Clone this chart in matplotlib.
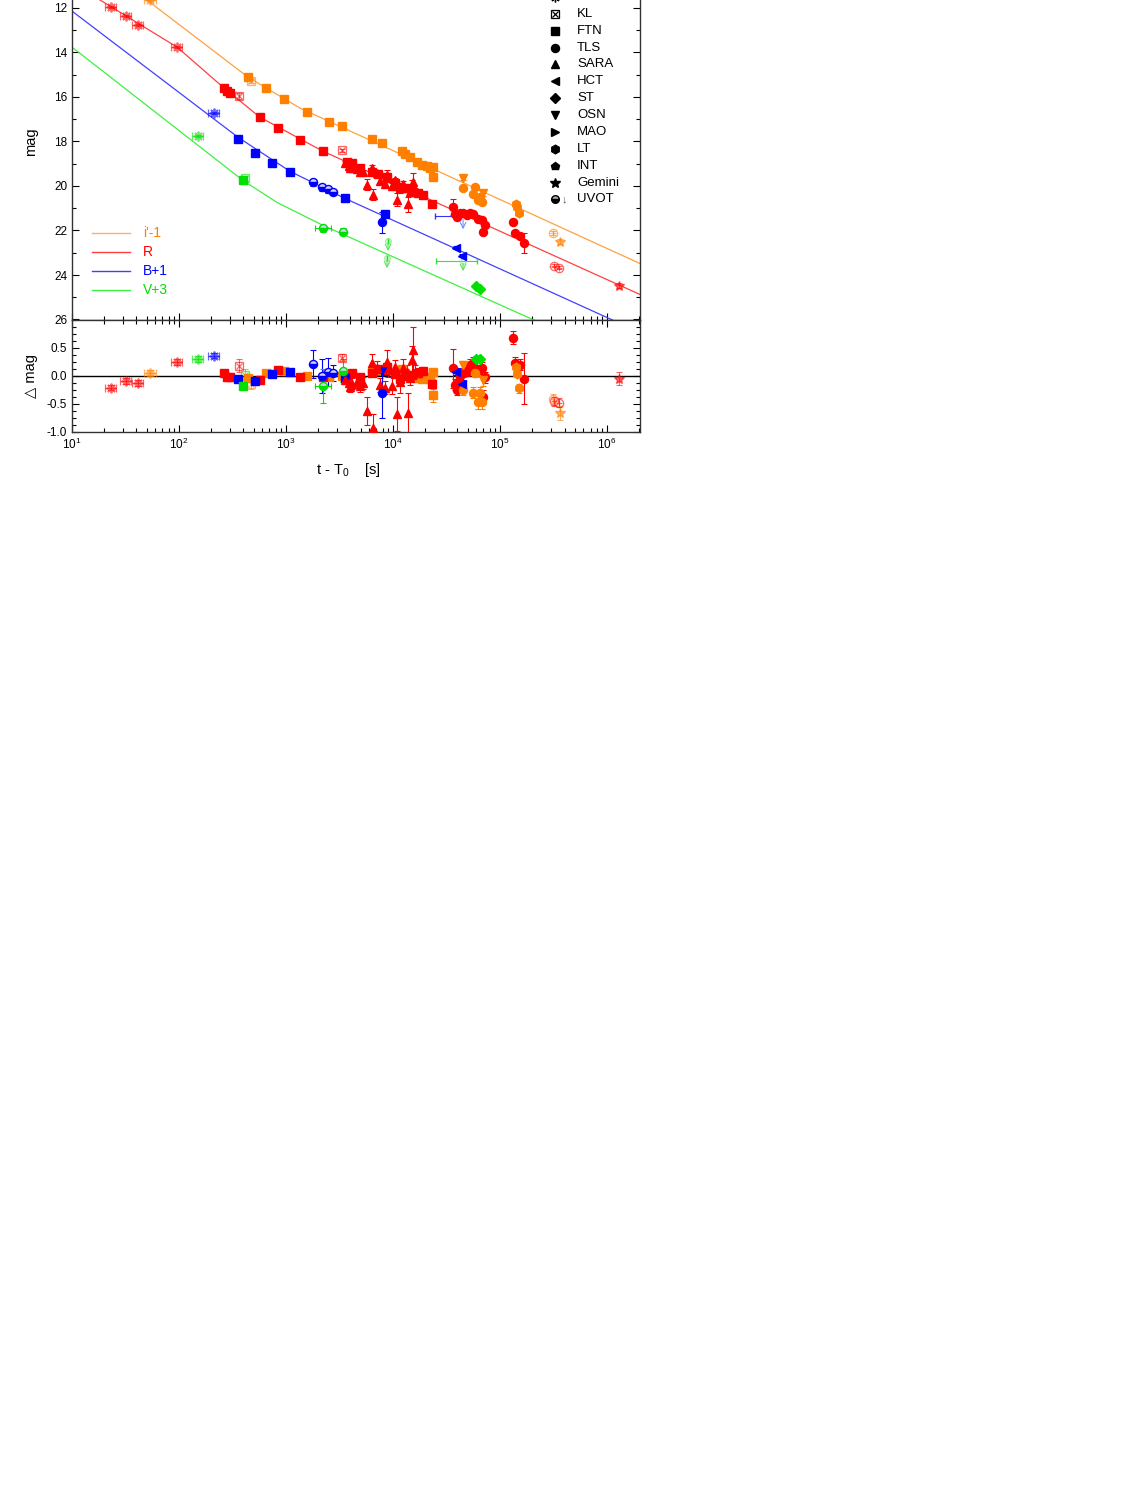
import numpy as np
import matplotlib.pyplot as plt
from matplotlib.ticker import MultipleLocator, LogLocator, NullFormatter, FormatStrFormatter

plt.rcParams['font.family'] = ['Liberation Sans', 'DejaVu Sans']
plt.rcParams['mathtext.fontset'] = 'custom'
plt.rcParams['mathtext.rm'] = 'Liberation Sans'
plt.rcParams['mathtext.default'] = 'regular'

ORG = '#FF8000'
RED = '#FF0000'
BLU = '#0000FF'
GRN = '#00E000'

# ---- model light curves (knots, t in s, mag)
org_line_t = [10, 442, 1352, 2.04e6]
org_line_mag = [9.07, 15.11, 16.50, 23.49]
red_line_t = [10, 96, 264, 571, 2218, 2.04e6]
red_line_mag = [10.87, 13.76, 15.60, 16.91, 18.44, 24.88]
blu_line_t = [10, 356, 1089, 3559, 2.04e6]
blu_line_mag = [12.14, 17.81, 19.34, 20.56, 26.59]
grn_line_t = [10, 396, 824, 2218, 2.04e6]
grn_line_mag = [13.76, 19.75, 20.74, 21.77, 28.17]

# ---- NMSU
red_nmsu_t = [23, 32, 41, 96]
red_nmsu_mag = [11.95, 12.36, 12.77, 13.76]
red_nmsu_err = [0.05, 0.05, 0.05, 0.05]
red_nmsu_dmag = [-0.21, -0.09, -0.13, 0.25]
org_nmsu_t = [54]
org_nmsu_mag = [11.64]
org_nmsu_err = [0.05]
org_nmsu_dmag = [0.05]
blu_nmsu_t = [212]
blu_nmsu_mag = [16.73]
blu_nmsu_err = [0.05]
blu_nmsu_dmag = [0.36]
grn_nmsu_t = [151]
grn_nmsu_mag = [17.77]
grn_nmsu_err = [0.05]
grn_nmsu_dmag = [0.30]

# ---- KL
red_kl_t = [364, 3337]
red_kl_mag = [15.96, 18.40]
red_kl_err = [0.12, 0.06]
red_kl_dmag = [0.18, 0.32]
org_kl_t = [471]
org_kl_mag = [15.29]
org_kl_err = [0.10]
org_kl_dmag = [-0.14]
grn_kl_t = [414]
grn_kl_mag = [19.66]
grn_kl_err = [0.10]
grn_kl_dmag = [0.02]

# ---- FTN
red_ftn_t = [264, 281, 300, 571, 841, 1352, 2218, 3715, 4140, 4918, 6365, 7240,
             8790, 10440, 11620, 12950, 15060, 17130, 19070, 23150]
red_ftn_mag = [15.60, 15.74, 15.83, 16.91, 17.41, 17.95, 18.44, 18.93, 18.98, 19.21, 19.39, 19.44,
               19.59, 19.87, 20.05, 20.11, 20.23, 20.32, 20.39, 20.79]
red_ftn_err = [0.03, 0.03, 0.03, 0.03, 0.03, 0.03, 0.04, 0.05, 0.05, 0.05, 0.05, 0.06,
               0.06, 0.06, 0.07, 0.07, 0.07, 0.08, 0.08, 0.08]
red_ftn_dmag = [0.05, -0.02, -0.02, -0.07, 0.10, -0.02, -0.02, 0.0, 0.05, -0.02, 0.05, 0.12,
                0.15, 0.03, -0.05, 0.0, 0.02, 0.05, 0.08, -0.14]
org_ftn_t = [442, 650, 957, 1571, 2523, 3337, 6365, 7890, 12140, 12950, 14420, 16770,
             18670, 20790, 22170, 23640, 23640]
org_ftn_mag = [15.11, 15.60, 16.10, 16.68, 17.14, 17.32, 17.90, 18.08, 18.44, 18.58, 18.71, 18.94,
               19.07, 19.12, 19.21, 19.16, 19.61]
org_ftn_err = [0.03, 0.03, 0.03, 0.03, 0.03, 0.03, 0.04, 0.04, 0.05, 0.05, 0.05, 0.05,
               0.06, 0.06, 0.06, 0.06, 0.12]
org_ftn_dmag = [-0.04, 0.05, 0.08, 0.0, -0.03, 0.0, 0.08, 0.10, 0.12, 0.05, 0.0, -0.04,
                -0.05, -0.02, -0.06, 0.07, -0.35]
blu_ftn_t = [356, 513, 740, 1089, 3559, 8420]
blu_ftn_mag = [17.90, 18.53, 18.98, 19.39, 20.56, 21.28]
blu_ftn_err = [0.04, 0.04, 0.04, 0.04, 0.04, 0.05]
blu_ftn_dmag = [-0.05, -0.10, 0.03, 0.07, -0.04, 0.08]
grn_ftn_t = [396]
grn_ftn_mag = [19.75]
grn_ftn_err = [0.04]
grn_ftn_dmag = [-0.18]

# ---- SARA
red_sara_t = [3559, 3840, 3965, 4140, 4610, 4918, 5250, 5720, 6365, 6500, 7085, 7560, 8420,
              8790, 8980, 9790, 10440, 10900, 11620, 12400, 13520, 13810, 14420, 15060, 15390, 16070]
red_sara_mag = [18.96, 19.08, 19.19, 19.17, 19.24, 19.37, 19.38, 19.95, 19.21, 20.39, 19.40, 19.76, 19.91,
                19.49, 19.66, 20.02, 19.74, 20.62, 20.11, 19.92, 20.08, 20.83, 20.25, 19.97, 19.81, 20.26]
red_sara_err = [0.08, 0.08, 0.08, 0.10, 0.10, 0.10, 0.10, 0.25, 0.15, 0.25, 0.12, 0.12, 0.12,
                0.20, 0.12, 0.15, 0.12, 0.30, 0.20, 0.15, 0.12, 0.35, 0.12, 0.25, 0.40, 0.15]
red_sara_dmag = [-0.07, -0.12, -0.20, -0.14, -0.11, -0.18, -0.13, -0.62, 0.23, -0.93, 0.14, -0.16, -0.21,
                 0.25, 0.10, -0.18, 0.16, -0.68, -0.11, 0.14, 0.07, -0.66, -0.04, 0.28, 0.46, 0.05]

# ---- TLS
red_tls_t = [36380, 37970, 39650, 40490, 42270, 45100, 49170, 52450, 55980, 62250, 67850, 69300,
             72400, 132100, 138000, 153800, 167600]
red_tls_mag = [20.95, 21.28, 21.41, 21.29, 21.22, 21.23, 21.30, 21.23, 21.27, 21.49, 21.53, 22.07,
               21.76, 21.62, 22.11, 22.24, 22.57]
red_tls_err = [0.35, 0.10, 0.10, 0.10, 0.08, 0.08, 0.08, 0.10, 0.12, 0.10, 0.10, 0.12,
               0.10, 0.12, 0.10, 0.10, 0.45]
red_tls_dmag = [0.13, -0.16, -0.25, -0.11, 0.0, 0.05, 0.07, 0.20, 0.22, 0.10, 0.14, -0.38,
                -0.03, 0.68, 0.23, 0.20, -0.05]
org_tls_t = [45100, 55980, 58400, 62250, 65000, 67850]
org_tls_mag = [20.11, 20.35, 20.04, 20.62, 20.49, 20.70]
org_tls_err = [0.08, 0.10, 0.08, 0.12, 0.10, 0.12]
org_tls_dmag = [-0.26, -0.30, 0.05, -0.47, -0.30, -0.47]
blu_tls_t = [7890]
blu_tls_mag = [21.64]
blu_tls_err = [0.45]
blu_tls_dmag = [-0.30]

# ---- HCT, ST, OSN, LT
blu_hct_t = [38800, 44150]
blu_hct_mag = [22.77, 23.13]
blu_hct_err = [0.06, 0.06]
blu_hct_dmag = [0.07, -0.14]
grn_st_t = [59700, 65000]
grn_st_mag = [24.48, 24.62]
grn_st_err = [0.05, 0.05]
grn_st_dmag = [0.30, 0.29]
org_osn_t = [45100, 69300]
org_osn_mag = [19.66, 20.33]
org_osn_err = [0.08, 0.10]
org_osn_dmag = [0.19, -0.08]
org_lt_t = [141200, 144200, 150600]
org_lt_mag = [20.79, 20.93, 21.22]
org_lt_err = [0.06, 0.06, 0.08]
org_lt_dmag = [0.15, 0.03, -0.22]

# ---- late faint points
red_late_t = [319600, 355900]
red_late_mag = [23.58, 23.67]
red_late_err = [0.08, 0.08]
red_late_dmag = [-0.45, -0.48]
org_late_t = [312500]
org_late_mag = [22.12]
org_late_err = [0.10]
org_late_dmag = [-0.42]
red_gem_t = [1294000]
red_gem_mag = [24.48]
red_gem_err = [0.12]
red_gem_dmag = [-0.05]
org_gem_t = [363800]
org_gem_mag = [22.50]
org_gem_err = [0.12]
org_gem_dmag = [-0.66]

# ---- UVOT
blu_uvot_t = [1786, 2168, 2472, 2750]
blu_uvot_mag = [19.84, 20.06, 20.15, 20.29]
blu_uvot_err = [0.15, 0.15, 0.15, 0.10]
blu_uvot_dmag = [0.21, 0.0, 0.07, 0.05]
blu_uvot_derr = [0.25, 0.30, 0.25, 0.15]
grn_uvot_t = [2218, 3412]
grn_uvot_mag = [21.91, 22.05]
grn_uvot_err = [0.15, 0.15]
grn_uvot_xlo = [352, 0]
grn_uvot_xhi = [402, 0]
grn_uvot_dmag = [-0.18, 0.09]
grn_uvot_derr = [0.30, 0.20]
# upper limits
blu_ul_t = [45100]
blu_ul_mag = [21.37]
blu_ul_xlo = [20400]
blu_ul_xhi = [15860]
grn_ul_t = [8980, 8790, 45100]
grn_ul_mag = [22.45, 23.22, 23.35]
grn_ul_xlo = [0, 0, 19870]
grn_ul_xhi = [0, 0, 15860]

MARK = {
    'NMSU': dict(marker=(8, 2, 0), ms=7),
    'KL': dict(marker='s', ms=6),
    'FTN': dict(marker='s', ms=5.8),
    'TLS': dict(marker='o', ms=5.8),
    'SARA': dict(marker='^', ms=6.2),
    'HCT': dict(marker='<', ms=6.2),
    'ST': dict(marker='D', ms=4.8),
    'OSN': dict(marker='v', ms=6.2),
    'MAO': dict(marker='>', ms=6.2),
    'LT': dict(marker='h', ms=6.2),
    'INT': dict(marker='p', ms=6.2),
    'Gemini': dict(marker='*', ms=7.5),
    'UVOT': dict(marker='o', ms=5.8),
    'OPLUS': dict(marker='o', ms=6),
}


def draw(ax, kind, color, t, y, yerr=None, xerr=None, alpha=1.0):
    st = MARK[kind]
    if yerr is not None or xerr is not None:
        ax.errorbar(t, y, yerr=yerr, xerr=xerr, fmt='none', ecolor=color, elinewidth=0.8,
                    capsize=2.5, capthick=0.8, alpha=alpha, zorder=3)
    if kind in ('KL', 'OPLUS'):
        ax.plot(t, y, ls='none', marker=st['marker'], ms=st['ms'], mfc='none', mec=color,
                mew=0.9, alpha=alpha, zorder=4)
        ax.plot(t, y, ls='none', marker='x' if kind == 'KL' else '+', ms=st['ms'] - 1,
                mec=color, mew=0.9, alpha=alpha, zorder=4)
    elif kind == 'UVOT':
        ax.plot(t, y, ls='none', marker='o', ms=st['ms'], color=color, mec=color,
                fillstyle='bottom', markerfacecoloralt='#D0D0FF', alpha=alpha, zorder=4)
    elif kind == 'NMSU':
        # asterisk drawn in a bracket of small error caps
        ax.errorbar(t, y, xerr=[[v * 0.12 for v in t], [v * 0.12 for v in t]], fmt='none',
                    ecolor=color, elinewidth=0.8, capsize=3, capthick=0.9, alpha=alpha, zorder=3)
        ax.plot(t, y, ls='none', marker=st['marker'], ms=st['ms'], color=color, mec=color,
                mew=1.3, alpha=alpha, zorder=4)
    else:
        ax.plot(t, y, ls='none', marker=st['marker'], ms=st['ms'], color=color, mec=color,
                mew=1, alpha=alpha, zorder=4)


groups = [
    ('NMSU', RED, red_nmsu_t, red_nmsu_mag, red_nmsu_err, red_nmsu_dmag, red_nmsu_err, 0.6),
    ('NMSU', ORG, org_nmsu_t, org_nmsu_mag, org_nmsu_err, org_nmsu_dmag, org_nmsu_err, 0.6),
    ('NMSU', BLU, blu_nmsu_t, blu_nmsu_mag, blu_nmsu_err, blu_nmsu_dmag, blu_nmsu_err, 0.6),
    ('NMSU', GRN, grn_nmsu_t, grn_nmsu_mag, grn_nmsu_err, grn_nmsu_dmag, grn_nmsu_err, 0.6),
    ('KL', RED, red_kl_t, red_kl_mag, red_kl_err, red_kl_dmag, red_kl_err, 0.6),
    ('KL', ORG, org_kl_t, org_kl_mag, org_kl_err, org_kl_dmag, org_kl_err, 0.6),
    ('KL', GRN, grn_kl_t, grn_kl_mag, grn_kl_err, grn_kl_dmag, grn_kl_err, 0.6),
    ('FTN', ORG, org_ftn_t, org_ftn_mag, org_ftn_err, org_ftn_dmag, org_ftn_err, 1.0),
    ('FTN', RED, red_ftn_t, red_ftn_mag, red_ftn_err, red_ftn_dmag, red_ftn_err, 1.0),
    ('FTN', BLU, blu_ftn_t, blu_ftn_mag, blu_ftn_err, blu_ftn_dmag, blu_ftn_err, 1.0),
    ('FTN', GRN, grn_ftn_t, grn_ftn_mag, grn_ftn_err, grn_ftn_dmag, grn_ftn_err, 1.0),
    ('SARA', RED, red_sara_t, red_sara_mag, red_sara_err, red_sara_dmag, red_sara_err, 1.0),
    ('TLS', RED, red_tls_t, red_tls_mag, red_tls_err, red_tls_dmag, red_tls_err, 1.0),
    ('TLS', ORG, org_tls_t, org_tls_mag, org_tls_err, org_tls_dmag, org_tls_err, 1.0),
    ('TLS', BLU, blu_tls_t, blu_tls_mag, blu_tls_err, blu_tls_dmag, blu_tls_err, 1.0),
    ('HCT', BLU, blu_hct_t, blu_hct_mag, blu_hct_err, blu_hct_dmag, blu_hct_err, 1.0),
    ('ST', GRN, grn_st_t, grn_st_mag, grn_st_err, grn_st_dmag, grn_st_err, 1.0),
    ('OSN', ORG, org_osn_t, org_osn_mag, org_osn_err, org_osn_dmag, org_osn_err, 1.0),
    ('LT', ORG, org_lt_t, org_lt_mag, org_lt_err, org_lt_dmag, org_lt_err, 1.0),
    ('OPLUS', RED, red_late_t, red_late_mag, red_late_err, red_late_dmag, red_late_err, 0.6),
    ('OPLUS', ORG, org_late_t, org_late_mag, org_late_err, org_late_dmag, org_late_err, 0.6),
    ('Gemini', RED, red_gem_t, red_gem_mag, red_gem_err, red_gem_dmag, red_gem_err, 0.6),
    ('Gemini', ORG, org_gem_t, org_gem_mag, org_gem_err, org_gem_dmag, org_gem_err, 0.6),
    ('UVOT', BLU, blu_uvot_t, blu_uvot_mag, blu_uvot_err, blu_uvot_dmag, blu_uvot_derr, 1.0),
]

W, H = 1148, 1485
fig = plt.figure(figsize=(W / 100, H / 100), dpi=100)
ax1 = fig.add_axes([72 / W, 1 - 319.5 / H, 568 / W, 356 / H])
ax2 = fig.add_axes([72 / W, 1 - 432 / H, 568 / W, 112.5 / H])

# model lines
ax1.plot(org_line_t, org_line_mag, color='#FFA040', lw=0.9, zorder=2)
ax1.plot(red_line_t, red_line_mag, color='#FF4040', lw=0.9, zorder=2)
ax1.plot(blu_line_t, blu_line_mag, color='#4040FF', lw=0.9, zorder=2)
ax1.plot(grn_line_t, grn_line_mag, color='#40F040', lw=0.9, zorder=2)

for kind, c, t, m, e, dm, de, a in groups:
    draw(ax1, kind, c, t, m, yerr=e, alpha=a)
    draw(ax2, kind, c, t, dm, yerr=de, alpha=a)

draw(ax1, 'UVOT', GRN, grn_uvot_t, grn_uvot_mag, yerr=grn_uvot_err,
     xerr=[grn_uvot_xlo, grn_uvot_xhi])
draw(ax2, 'UVOT', GRN, grn_uvot_t, grn_uvot_dmag, yerr=grn_uvot_derr,
     xerr=[grn_uvot_xlo, grn_uvot_xhi])

# upper limits (arrows)
ax1.errorbar(blu_ul_t, blu_ul_mag, xerr=[blu_ul_xlo, blu_ul_xhi], fmt='none', ecolor=BLU,
             elinewidth=0.8, capsize=2.5, alpha=0.8)
ax1.errorbar(grn_ul_t, grn_ul_mag, xerr=[grn_ul_xlo, grn_ul_xhi], fmt='none', ecolor=GRN,
             elinewidth=0.8, capsize=2.5, alpha=0.8)
for t, m in zip(blu_ul_t, blu_ul_mag):
    ax1.annotate('', xy=(t, m + 0.7), xytext=(t, m),
                 arrowprops=dict(arrowstyle='->', color='#7090FF', lw=0.8))
for t, m in zip(grn_ul_t, grn_ul_mag):
    ax1.annotate('', xy=(t, m + 0.6), xytext=(t, m),
                 arrowprops=dict(arrowstyle='->', color='#60E060', lw=0.8))
    ax1.plot([t], [m], ls='none', marker='o', ms=4, mfc='none', mec='#80F080', alpha=0.8)

ax2.axhline(0, color='black', lw=1, zorder=1)

for ax in (ax1, ax2):
    ax.set_xscale('log')
    ax.set_xlim(10, 2.03e6)
    ax.xaxis.set_major_locator(LogLocator(base=10, numticks=10))
    ax.xaxis.set_minor_locator(LogLocator(base=10, subs=np.arange(2, 10), numticks=20))
    ax.xaxis.set_minor_formatter(NullFormatter())
    ax.tick_params(which='both', direction='in', top=True, right=True, labelsize=8.5)
    ax.tick_params(which='major', length=5, width=0.8)
    ax.tick_params(which='minor', length=3, width=0.8)
    for s in ax.spines.values():
        s.set_linewidth(1)
        s.set_color('#333333')

ax1.set_ylim(26, 10)
ax1.yaxis.set_major_locator(MultipleLocator(2))
ax1.yaxis.set_minor_locator(MultipleLocator(1))
ax1.tick_params(labelbottom=False)
ax1.set_ylabel('mag', fontsize=10.5)
ax1.yaxis.set_label_coords(-0.06, 0.5)

ax2.set_ylim(-1, 1)
ax2.set_yticks([-1.0, -0.5, 0.0, 0.5])
ax2.yaxis.set_major_formatter(FormatStrFormatter('%.1f'))
ax2.yaxis.set_minor_locator(MultipleLocator(0.125))
ax2.set_ylabel('\u25b3 mag', fontsize=10.5)
ax2.yaxis.set_label_coords(-0.06, 0.5)
ax2.set_xlabel('t - T$_0$    [s]', fontsize=10.5)
ax2.xaxis.set_label_coords(0.486, -0.26)


def fx(x):
    return x / W


def fy(y):
    return 1 - y / H


# telescope legend
leg_names = ['NMSU', 'KL', 'FTN', 'TLS', 'SARA', 'HCT', 'ST', 'OSN', 'MAO', 'LT', 'INT', 'Gemini', 'UVOT']
leg_y = [-3, 14, 31, 48, 64, 81, 98, 115, 132, 149, 166, 183, 199]
for name, y in zip(leg_names, leg_y):
    st = MARK[name]
    if name == 'KL':
        ax1.plot([fx(555)], [fy(y)], transform=fig.transFigure, clip_on=False, marker='s', ms=6,
                 mfc='none', mec='black', mew=0.9)
        ax1.plot([fx(555)], [fy(y)], transform=fig.transFigure, clip_on=False, marker='x', ms=5,
                 mec='black', mew=0.9)
    elif name == 'UVOT':
        ax1.plot([fx(555)], [fy(y)], transform=fig.transFigure, clip_on=False, marker='o', ms=5.5,
                 color='black', fillstyle='bottom', markerfacecoloralt='#AAAAAA')
        fig.text(fx(562), fy(y), '\u2193', fontsize=8, va='center', color='#555555')
    else:
        ax1.plot([fx(555)], [fy(y)], transform=fig.transFigure, clip_on=False,
                 marker=st['marker'], ms=st['ms'], color='black', mew=1)
    fig.text(fx(577), fy(y), name, fontsize=9.5, va='center', ha='left')

# band legend
band_names = ["i'-1", 'R', 'B+1', 'V+3']
band_line_colors = ['#FFB070', '#FF4040', '#4040FF', '#40F040']
band_text_colors = [ORG, RED, BLU, GRN]
band_y = [233, 252, 271, 290]
for name, lc, tc, y in zip(band_names, band_line_colors, band_text_colors, band_y):
    ax1.plot([fx(92), fx(130)], [fy(y), fy(y)], transform=fig.transFigure, clip_on=False,
             color=lc, lw=1)
    fig.text(fx(143), fy(y), name, fontsize=10, va='center', ha='left', color=tc)

fig.savefig('out.png', dpi=100)
